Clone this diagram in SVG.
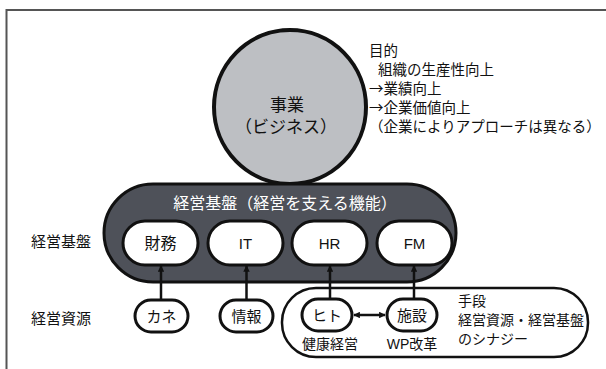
<svg xmlns="http://www.w3.org/2000/svg" width="606" height="369" viewBox="0 0 606 369">
<defs>
<style>
text{font-family:"Liberation Sans","Noto Sans CJK JP",sans-serif;fill:#111}
.j{font-family:"Noto Sans CJK JP","Liberation Sans",sans-serif}
.c{text-anchor:middle;dominant-baseline:central}
.l{dominant-baseline:central}
.w{fill:#fff}
.pill{fill:#fff;stroke:#111;stroke-width:3}
.conn{stroke:#111;stroke-width:2.5;fill:none}
</style>
<marker id="ah" viewBox="0 0 10 10" refX="9" refY="5" markerWidth="2.6" markerHeight="2.6" orient="auto-start-reverse" markerUnits="strokeWidth">
<path d="M0,0 L10,5 L0,10 z" fill="#111"/>
</marker>
</defs>
<rect width="606" height="369" fill="#fff"/>
<path d="M6.5,369 V10 H606" fill="none" stroke="#555" stroke-width="2"/>

<g id="business">
<ellipse cx="290" cy="107" rx="76" ry="77" fill="#bdbfc3" stroke="#111" stroke-width="4"/>
<text class="c" x="287" y="105" font-size="17">事業</text>
<text class="c" x="286" y="127" font-size="17">（ビジネス）</text>
</g>

<g id="purpose">
<text class="l j" x="369" y="49" font-size="14.5">目的</text>
<text class="l j" x="378" y="68" font-size="14.5">組織の生産性向上</text>
<text class="l j" x="369" y="87" font-size="14.5">→業績向上</text>
<text class="l j" x="369" y="106" font-size="14.5">→企業価値向上</text>
<text class="l j" x="369" y="125" font-size="14.5">（企業によりアプローチは異なる）</text>
</g>

<g id="foundation">
<rect x="104" y="184" width="352" height="98" rx="49" fill="#4e5159" stroke="#111" stroke-width="3"/>
<text class="c w" x="285" y="203" font-size="16">経営基盤（経営を支える機能）</text>
</g>

<g id="label-foundation"><text class="l" x="31" y="241" font-size="15">経営基盤</text></g>
<g id="label-resources"><text class="l" x="31" y="318" font-size="15">経営資源</text></g>

<g id="means">
<rect x="282" y="288" width="306" height="69" rx="34" fill="#fff" stroke="#111" stroke-width="2.5"/>
<text class="l" x="458" y="301" font-size="14">手段</text>
<text class="l" x="458" y="320" font-size="14">経営資源・経営基盤</text>
<text class="l" x="458" y="339" font-size="14">のシナジー</text>
</g>

<g id="finance"><rect class="pill" x="123" y="221" width="75" height="44" rx="22"/><text class="c" x="160.5" y="243" font-size="16">財務</text></g>
<g id="it"><rect class="pill" x="208" y="221" width="75" height="44" rx="22"/><text class="c" x="245.5" y="243" font-size="15">IT</text></g>
<g id="hr"><rect class="pill" x="292" y="221" width="75" height="44" rx="22"/><text class="c" x="329.5" y="243" font-size="15">HR</text></g>
<g id="fm"><rect class="pill" x="377" y="221" width="75" height="44" rx="22"/><text class="c" x="414.5" y="243" font-size="15">FM</text></g>

<g id="money"><rect class="pill" x="135" y="300" width="53" height="32" rx="16" stroke-width="2.5"/><text class="c" x="161.5" y="316" font-size="15">カネ</text></g>
<g id="info"><rect class="pill" x="220" y="300" width="53" height="32" rx="16" stroke-width="2.5"/><text class="c" x="246.5" y="316" font-size="15">情報</text></g>
<g id="people"><rect class="pill" x="302" y="299" width="50" height="32" rx="16" stroke-width="2.5"/><text class="c" x="327" y="315" font-size="15">ヒト</text><text class="c" x="330" y="344" font-size="14">健康経営</text></g>
<g id="facility"><rect class="pill" x="387" y="299" width="50" height="32" rx="16" stroke-width="2.5"/><text class="c" x="412" y="315" font-size="15">施設</text><text class="c" x="412" y="344" font-size="14">WP改革</text></g>

<g id="connectors">
<line class="conn" x1="161" y1="300" x2="161" y2="266" marker-end="url(#ah)"/>
<line class="conn" x1="246.5" y1="300" x2="246.5" y2="266" marker-end="url(#ah)"/>
<line class="conn" x1="330" y1="299" x2="330" y2="266" marker-end="url(#ah)"/>
<line class="conn" x1="414" y1="299" x2="414" y2="266" marker-end="url(#ah)"/>
<line class="conn" x1="354" y1="315" x2="385" y2="315" marker-start="url(#ah)" marker-end="url(#ah)"/>
</g>
</svg>
